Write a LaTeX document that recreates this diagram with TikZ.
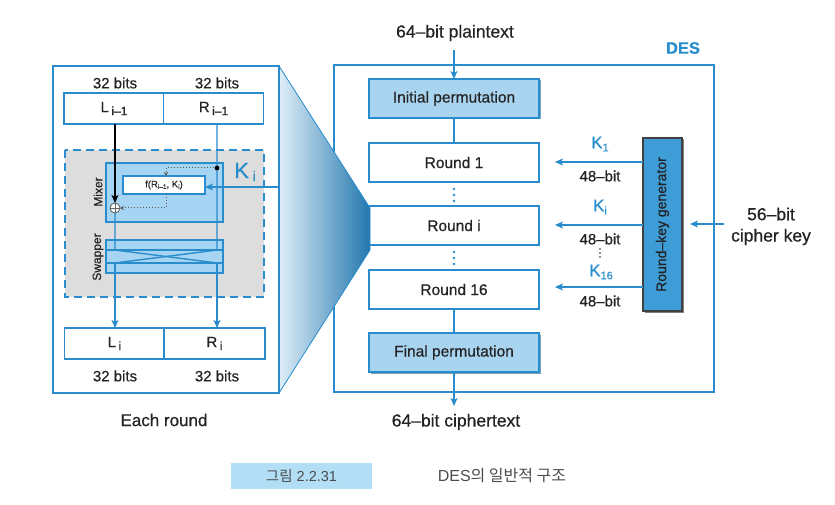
\documentclass[tikz,border=0pt]{standalone}
\usepackage{fontspec}
\setmainfont{Liberation Sans}[FakeBold=0.6]
\newfontfamily\krfont{Noto Sans CJK KR}
\newfontfamily\capfont{Liberation Sans}
\usetikzlibrary{arrows.meta,shadows}
\definecolor{bl}{RGB}{40,140,205}
\definecolor{lfill}{RGB}{168,212,240}
\definecolor{mfill}{RGB}{165,213,242}
\definecolor{kfill}{RGB}{62,156,215}
\definecolor{gfill}{RGB}{221,221,221}
\definecolor{cfill}{RGB}{178,222,246}
\definecolor{txt}{RGB}{35,35,35}
\newcommand{\fs}[1]{\fontsize{#1}{#1}\selectfont}
\tikzset{
  every node/.style={text=txt, inner sep=0pt, outer sep=0pt},
  line/.style={draw=bl, line width=1.4pt},
  arr/.style={line, -{Stealth[length=8pt,width=7pt,inset=2pt]}},
  pbox/.style={draw=bl, line width=1.4pt, fill=lfill, minimum width=170, minimum height=39,
     drop shadow={shadow xshift=1.5pt, shadow yshift=-1.5pt, fill=bl!70!black, opacity=0.6}, font=\fs{15.5}},
  rbox/.style={draw=bl, line width=1.4pt, fill=white, minimum width=170, minimum height=39, font=\fs{15.5}},
  hbox/.style={draw=bl, line width=1.3pt, fill=white, minimum width=100, minimum height=31, font=\fs{15}},
  lbl/.style={font=\fs{15}},
  big/.style={font=\fs{17.5}},
  klbl/.style={font=\fs{17}, text=bl},
  dotc/.style={fill=bl, draw=none, circle, minimum size=2.6pt}
}
\begin{document}
\begin{tikzpicture}[x=1pt,y=-1pt]
\useasboundingbox (0,0) rectangle (835,505);
% ---------- right panel: DES ----------
\draw[line] (334,65) rectangle (714,392);
\node[font=\bfseries\fs{16.5}, text=bl] (des) at (683,48) {DES};
\node[big] (pt) at (455,33) {64–bit plaintext};
\node[pbox] (ip) at (454,98.5) {Initial permutation};
\node[rbox] (r1) at (454,162.5) {Round 1};
\node[rbox] (ri) at (454,225.5) {Round i};
\node[rbox] (r16) at (454,289.5) {Round 16};
\node[pbox] (fp) at (454,352.5) {Final permutation};
\coordinate (ptend) at (454,50);
\coordinate (ctend) at (454,406);
\draw[arr] (ptend) -- (ip.north);
\draw[line] (ip.south) -- (r1.north);
\draw[line] (r16.south) -- (fp.north);
\draw[arr] (fp.south) -- (ctend);
\node[big] (ct) at (456,422) {64–bit ciphertext};
\foreach \y in {189,195,201} \node[dotc] at (454,\y) {};
\foreach \y in {252,258,264} \node[dotc] at (454,\y) {};
% key generator
\node[draw=black!75, line width=1.3pt, fill=kfill, minimum width=39, minimum height=173,
      drop shadow={shadow xshift=1.5pt, shadow yshift=-1.5pt, fill=black, opacity=0.5}] (kg) at (662.5,224.5) {};
\node[rotate=90, font=\fs{14}] (kgt) at (kg.center) {Round–key generator};
\coordinate (k1e) at (555,162);
\coordinate (kie) at (555,225);
\coordinate (k16e) at (555,287);
\draw[arr] (kg.west |- k1e) -- (k1e);
\draw[arr] (kg.west |- kie) -- (kie);
\draw[arr] (kg.west |- k16e) -- (k16e);
\node[klbl] (lk1) at (600,144) {K\raisebox{-3pt}{\fs{11}1}};
\node[lbl] (b1) at (600,176) {48–bit};
\node[klbl] (lki) at (600,207) {K\raisebox{-3pt}{\fs{11}i}};
\node[lbl] (bi) at (600,239) {48–bit};
\foreach \y in {249,253,257} \fill[txt] (600,\y) circle (0.8);
\node[klbl] (lk16) at (601,272) {K\raisebox{-3pt}{\fs{11}16}};
\node[lbl] (b16) at (600,301) {48–bit};
\coordinate (cks) at (724,224);
\coordinate (cke) at (690,224);
\draw[arr] (cks) -- (cke);
\node[big] (ck1) at (771,214) {56–bit};
\node[big] (ck2) at (771,237) {cipher key};
% ---------- funnel ----------
\shade[left color=bl!15, right color=bl!85!black] (279,66) -- (370,208) -- (370,250) -- (279,393) -- cycle;
\draw[bl, line width=0.8pt] (279,66) -- (370,208) -- (370,250) -- (279,393);
% ---------- left panel ----------
\draw[line] (53,66) rectangle (279,393);
\node[lbl] (t1) at (115,83) {32 bits};
\node[lbl] (t2) at (217,83) {32 bits};
\node[hbox] (lp) at (114,108.5) {L\,\raisebox{-3pt}{\fs{12}i–1}};
\node[hbox] (rp) at (213.5,108.5) {R\,\raisebox{-3pt}{\fs{12}i–1}};
\draw[bl, line width=1.3pt, fill=gfill, dash pattern=on 8pt off 5pt] (65,150) rectangle (264,297);
\node[draw=bl, line width=1.6pt, fill=mfill, minimum width=117, minimum height=59] (mix) at (164.5,192.5) {};
\node[draw=bl, line width=1.6pt, fill=mfill, minimum width=117, minimum height=33] (swp) at (164.5,256.5) {};
\draw[bl, line width=1.3pt] (106,250) -- (223,250);
\draw[bl, line width=1.3pt] (106,263) -- (223,263);
\node[draw=bl, line width=1.2pt, fill=white, minimum width=82, minimum height=18, font=\fs{9.5}] (fb) at (164,185)
   {f(R\raisebox{-1.5pt}{\fs{6.5}i–1}, K\raisebox{-1.5pt}{\fs{6.5}i})};
\node[draw=txt!70, line width=0.9pt, fill=white, circle, minimum size=10pt] (xor) at (115,208) {};
\draw[txt!70, line width=0.9pt] (xor.north) -- (xor.south) (xor.west) -- (xor.east);
\node[rotate=90, font=\fs{12}] (mixl) at (98,192) {Mixer};
\node[rotate=90, font=\fs{12}] (swpl) at (98,257) {Swapper};
\draw[black, line width=1.3pt, -{Stealth[length=8pt,width=7pt,inset=2pt]}] (115,124) -- (xor.north);
% dot and dotted feed
\coordinate (dt) at (217,168);
\coordinate (dc) at (166,168);
\coordinate (dx) at (166,208);
\draw[txt!75, line width=1pt, dash pattern=on 1.5pt off 1.5pt, -{Stealth[length=4pt,width=4pt]}] (dt) -- (dc) -- (dc |- fb.north);
\draw[txt!75, line width=1pt, dash pattern=on 1.5pt off 1.5pt, -{Stealth[length=4pt,width=4pt]}] (dc |- fb.south) -- (dx) -- (xor.east);
% vertical data lines
\coordinate (la) at (115,250);
\coordinate (lb) at (115,263);
\coordinate (ra) at (217,250);
\coordinate (rb) at (217,263);
\draw[line] (xor.south) -- (la) -- (rb);
\draw[line] (217,124) -- (ra) -- (lb);
\node[hbox] (li) at (114.5,343.5) {L\,\raisebox{-3pt}{\fs{12}i}};
\node[hbox, minimum width=101] (ri2) at (214.5,343.5) {R\,\raisebox{-3pt}{\fs{12}i}};
\draw[arr] (lb) -- (lb |- li.north);
\draw[arr] (rb) -- (rb |- ri2.north);
\fill[black] (dt) circle (2.4);
% Ki input
\coordinate (kin) at (279,187);
\draw[arr] (kin) -- (fb.east |- kin);
\node[font=\fs{22}, text=bl] (kil) at (245,172) {K\,\raisebox{-3pt}{\fs{14}i}};
\node[lbl] (b3) at (115,376) {32 bits};
\node[lbl] (b4) at (217,376) {32 bits};
\node[font=\fs{17}] (er) at (164,420) {Each round};
% ---------- caption ----------
\node[fill=cfill, minimum width=141, minimum height=26] (cap) at (301.5,476) {};
\node[font=\capfont\fs{14.5}, text=black!70] (capt) at (301.5,476) {{\krfont 그림} 2.2.31};
\node[font=\capfont\fs{16}, text=black!70] (capd) at (502,476) {DES{\krfont 의 일반적 구조}};
\end{tikzpicture}
\end{document}
